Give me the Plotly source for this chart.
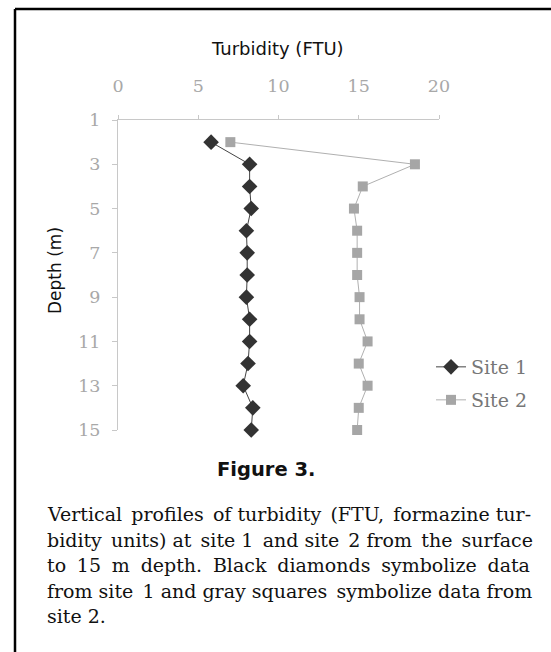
import plotly.graph_objects as go

# ---- data ----
depth = [2, 3, 4, 5, 6, 7, 8, 9, 10, 11, 12, 13, 14, 15]
site1 = [5.8, 8.2, 8.2, 8.3, 8.0, 8.05, 8.05, 8.0, 8.2, 8.2, 8.1, 7.8, 8.4, 8.3]
site2 = [7.0, 18.5, 15.25, 14.7, 14.9, 14.9, 14.9, 15.05, 15.05, 15.55, 15.0, 15.55, 15.0, 14.9]
x_ticks = [0, 5, 10, 15, 20]
y_ticks = [1, 3, 5, 7, 9, 11, 13, 15]
series_names = ["Site 1", "Site 2"]

x_title = "Turbidity (FTU)"
y_title = "Depth (m)"
fig_label = "Figure 3."
caption_lines = [
    "Vertical profiles of turbidity (FTU, formazine tur-",
    "bidity units) at site 1 and site 2 from the surface",
    "to 15 m depth. Black diamonds symbolize data",
    "from site 1 and gray squares symbolize data from",
    "site 2.",
]

# ---- layout geometry ----
W, H = 551, 652
L, R, T, B = 118, 439, 120, 430   # plot area in window pixels


def px(xp):
    return (xp - L) / (R - L)


def py(yp):
    return (B - yp) / (B - T)


# extra spacing (unicode fixed-width spaces) to justify the caption lines
SP6 = "\u2006"   # six-per-em space
SP4 = "\u2005"   # four-per-em space


def justify(line, extra):
    words = line.split(" ")
    out = words[0]
    for k, w in enumerate(words[1:]):
        add = extra[k] if k < len(extra) else ""
        out += " " + add + w
    return out


pads = [
    [SP6, SP6, "", SP6, SP6, ""],
    [SP6, "", SP6, "", SP6, "", SP6, "", SP6, SP6],
    [SP4] * 7,
    ["", SP6, "", "", "", SP6, "", ""],
    [],
]
caption_text = [justify(l, p) for l, p in zip(caption_lines, pads)]

fig = go.Figure()
fig.add_trace(go.Scatter(
    x=site1, y=depth, name=series_names[0], mode="lines+markers",
    line=dict(color="#444444", width=1),
    marker=dict(symbol="diamond", size=12, color="#333333"),
    cliponaxis=False, legend="legend",
))
fig.add_trace(go.Scatter(
    x=site2, y=depth, name=series_names[1], mode="lines+markers",
    line=dict(color="#b0b0b0", width=1),
    marker=dict(symbol="square", size=10, color="#a6a6a6"),
    cliponaxis=False, legend="legend2",
))

tickfont = dict(family="DejaVu Serif, serif", size=17.5, color="#a8a8a8")
legfont = dict(family="DejaVu Serif, serif", size=19, color="#777777")

fig.update_xaxes(
    range=[0, 20], side="top", tickvals=x_ticks, ticks="outside", ticklen=4,
    tickcolor="#c8c8c8", showline=True, linecolor="#c8c8c8", linewidth=1,
    showgrid=False, zeroline=False, tickfont=tickfont, ticklabelstandoff=16,
)
fig.update_yaxes(
    range=[15, 1], tickvals=y_ticks, ticks="outside", ticklen=5,
    tickcolor="#c8c8c8", showline=True, linecolor="#c8c8c8", linewidth=1,
    showgrid=False, zeroline=False, tickfont=tickfont, ticklabelstandoff=8,
)

sans = "DejaVu Sans, Liberation Sans, sans-serif"
annotations = [
    dict(text=x_title, x=px(277), y=py(48), xref="paper", yref="paper",
         showarrow=False, xanchor="center", yanchor="middle",
         font=dict(family=sans, size=18, color="#111111")),
    dict(text=y_title, x=px(55), y=py(271), xref="paper", yref="paper",
         showarrow=False, xanchor="center", yanchor="middle", textangle=-90,
         font=dict(family=sans, size=17, color="#111111")),
    dict(text="<b>" + fig_label + "</b>", x=px(266), y=py(470), xref="paper", yref="paper",
         showarrow=False, xanchor="center", yanchor="middle",
         font=dict(family=sans, size=19.5, color="#111111")),
]
for i, line in enumerate(caption_text):
    annotations.append(dict(
        text=line, x=px(45), y=py(514 + i * 25.5), xref="paper", yref="paper",
        showarrow=False, xanchor="left", yanchor="middle",
        font=dict(family="DejaVu Serif, serif", size=19, color="#111111"),
    ))

shapes = [
    dict(type="line", xref="paper", yref="paper", x0=px(15), x1=px(570), y0=py(9), y1=py(9),
         line=dict(color="black", width=2.5)),
    dict(type="line", xref="paper", yref="paper", x0=px(15), x1=px(15), y0=py(9), y1=py(670),
         line=dict(color="black", width=2.5)),
]

fig.update_layout(
    width=W, height=H,
    margin=dict(l=L, r=W - R, t=T, b=H - B),
    paper_bgcolor="white", plot_bgcolor="white",
    annotations=annotations, shapes=shapes,
    hovermode=False,
    legend=dict(x=px(431), y=py(367), xanchor="left", yanchor="middle",
                font=legfont, bgcolor="rgba(0,0,0,0)"),
    legend2=dict(x=px(431), y=py(400), xanchor="left", yanchor="middle",
                 font=legfont, bgcolor="rgba(0,0,0,0)"),
    showlegend=True,
)

fig.write_html(
    "out.html",
    config={"displayModeBar": False},
    post_script="document.body.style.margin='0px';document.body.style.overflow='hidden';",
)
